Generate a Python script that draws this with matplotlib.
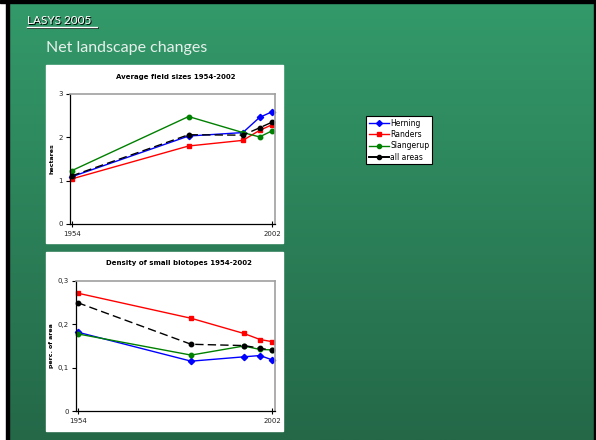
import numpy as np
import matplotlib.pyplot as plt
from matplotlib.patches import Rectangle
from matplotlib.lines import Line2D

W, H = 596, 440

years = [1954, 1982, 1995, 1999, 2002]
year_ticks = [1954, 2002]

# Average field size (hectares)
field_herning = [1.09, 2.03, 2.11, 2.46, 2.59]
field_randers = [1.04, 1.80, 1.93, 2.16, 2.29]
field_slangerup = [1.23, 2.48, 2.11, 2.01, 2.15]
field_all = [1.11, 2.06, 2.05, 2.22, 2.35]

# Density of small biotopes (per cent of area)
bio_herning = [0.182, 0.115, 0.125, 0.128, 0.118]
bio_randers = [0.272, 0.214, 0.179, 0.165, 0.160]
bio_slangerup = [0.178, 0.129, 0.150, 0.142, 0.141]
bio_all = [0.250, 0.154, 0.151, 0.145, 0.140]

series_names = ["Herning", "Randers", "Slangerup", "all areas"]
series_colors = ["#0000ff", "#ff0000", "#008000", "#000000"]
series_markers = ["D", "s", "o", "o"]
series_styles = ["-", "-", "-", (0, (6, 3))]

fig = plt.figure(figsize=(W / 100, H / 100), dpi=100)


def px_axes(x0, y0, x1, y1, **kw):
    return fig.add_axes([x0 / W, 1 - y1 / H, (x1 - x0) / W, (y1 - y0) / H], **kw)


# slide background: vertical green gradient with black frame
bg = px_axes(0, 0, W, H)
bg.set_xlim(0, W)
bg.set_ylim(H, 0)
bg.axis("off")
grad = np.linspace(0, 1, 256)[:, None]
top = np.array([51, 154, 106]) / 255
bot = np.array([36, 104, 72]) / 255
img = top[None, None, :] * (1 - grad[:, :, None]) + bot[None, None, :] * grad[:, :, None]
bg.imshow(img, extent=(0, W, H, 0), aspect="auto", zorder=0)
bg.add_patch(Rectangle((0, 0), 6, H, color="white", zorder=1))
bg.add_patch(Rectangle((6, 0), 3, H, color="black", zorder=2))
bg.add_patch(Rectangle((0, 0), W, 3, color="black", zorder=2))
bg.add_patch(Rectangle((W - 2, 0), 2, H, color="black", zorder=2))

# slide headings
bg.text(28, 25, "LASYS 2005", color="black", fontsize=8.5, fontfamily="Lato",
        va="baseline", zorder=3)
bg.text(27, 24, "LASYS 2005", color="white", fontsize=8.5, fontfamily="Lato",
        va="baseline", zorder=4)
bg.plot([28, 98], [28, 28], color="black", lw=1.2, zorder=3)
bg.plot([27, 97], [27, 27], color="white", lw=1.0, zorder=4)
bg.text(46, 52, "Net landscape changes", color="#e8f0ec", fontsize=11.5,
        fontfamily="Lato", va="baseline", zorder=4)

# white chart panels
bg.add_patch(Rectangle((46, 65), 237, 178, color="white", zorder=3))
bg.add_patch(Rectangle((46, 252), 237, 179, color="white", zorder=3))


def draw_chart(ax, data, ylim, yticks, ylabels, ylabel, title, title_y):
    for vals, c, m, ls in zip(data, series_colors, series_markers, series_styles):
        ax.plot(years, vals, color=c, lw=1.0, linestyle=ls, marker=m,
                markersize=3.2, markeredgecolor=c, markerfacecolor=c, clip_on=False)
    ax.set_xlim(1953.6, 2002.7)
    ax.set_ylim(*ylim)
    ax.set_yticks(yticks)
    ax.set_yticklabels(ylabels, fontsize=5, color="#222222")
    ax.set_xticks(year_ticks)
    ax.set_xticklabels([str(y) for y in year_ticks], fontsize=5, color="#222222")
    ax.tick_params(axis="y", direction="out", length=3, width=0.8, pad=2)
    ax.tick_params(axis="x", direction="inout", length=4, width=0.8, pad=3)
    for s in ("top", "right"):
        ax.spines[s].set_color("#a0a0a0")
        ax.spines[s].set_linewidth(1.2)
    for s in ("left", "bottom"):
        ax.spines[s].set_color("black")
        ax.spines[s].set_linewidth(0.9)
    ax.set_ylabel(ylabel, fontsize=4.5, fontweight="bold", labelpad=3)
    fig.text((ax.get_position().x0 + ax.get_position().x1) / 2 + 0.005, 1 - title_y / H,
             title, fontsize=5, fontweight="bold", ha="center", va="center")


ax1 = px_axes(70, 94, 275, 224)
draw_chart(ax1, [field_herning, field_randers, field_slangerup, field_all],
           (0, 3), [0, 1, 2, 3], ["0", "1", "2", "3"], "hectares",
           "Average field sizes 1954-2002", 77)

ax2 = px_axes(76, 281, 275, 411)
draw_chart(ax2, [bio_herning, bio_randers, bio_slangerup, bio_all],
           (0, 0.3), [0, 0.1, 0.2, 0.3], ["0", "0,1", "0,2", "0,3"], "perc. of area",
           "Density of small biotopes 1954-2002", 263)

# legend box
handles = [Line2D([], [], color=c, lw=1.4 if i == 3 else 1.0, marker=m, markersize=3,
                  markerfacecolor=c, markeredgecolor=c)
           for i, (c, m) in enumerate(zip(series_colors, series_markers))]
leg = fig.legend(handles, series_names, loc="upper left",
                 bbox_to_anchor=(366 / W, 1 - 116 / H), fontsize=5.5,
                 frameon=True, fancybox=False, handlelength=2.6, handletextpad=0.2,
                 borderpad=0.35, labelspacing=0.3, borderaxespad=0,
                 framealpha=1, facecolor="white")
leg.get_frame().set_edgecolor("black")
leg.get_frame().set_linewidth(0.8)

fig.savefig("out.png", dpi=100)
